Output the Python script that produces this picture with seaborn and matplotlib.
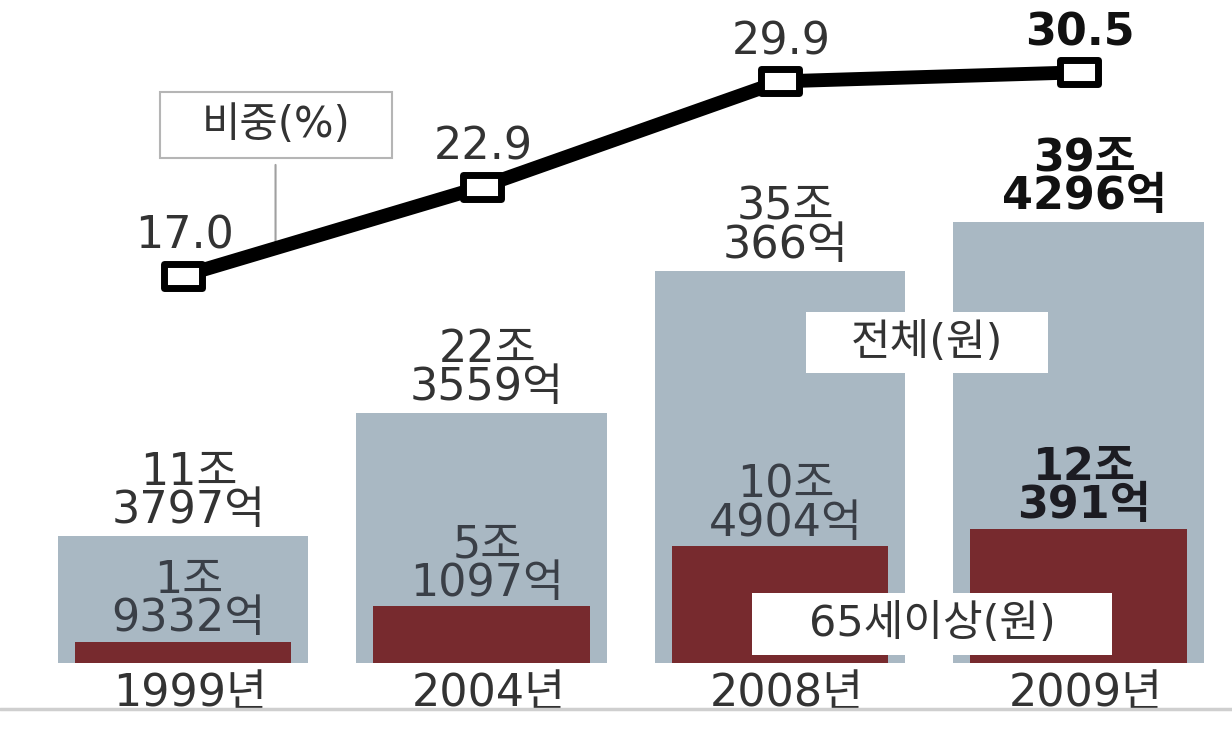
import numpy as np
import pandas as pd
import matplotlib
matplotlib.use("Agg")
import matplotlib.pyplot as plt
from matplotlib.path import Path
from matplotlib.lines import Line2D
from matplotlib.patches import Rectangle
import seaborn as sns

# ---- data -------------------------------------------------------------
years = ["1999년", "2004년", "2008년", "2009년"]
total_jo = [11.3797, 22.3559, 35.0366, 39.4296]          # 전체 진료비 (조원)
senior_jo = [1.9332, 5.1097, 10.4904, 12.0391]           # 65세 이상 진료비 (조원)
share_pct = [17.0, 22.9, 29.9, 30.5]                     # 비중 (%)
total_labels = ["11조\n3797억", "22조\n3559억", "35조\n366억", "39조\n4296억"]
senior_labels = ["1조\n9332억", "5조\n1097억", "10조\n4904억", "12조\n391억"]
share_labels = ["17.0", "22.9", "29.9", "30.5"]

GRAY = "#a9b8c3"
RED = "#772a2e"
TXT = "#333333"

sns.set_theme(style="white")
FAMILY = ["DejaVu Sans", "Noto Sans CJK KR"]
plt.rcParams["font.family"] = FAMILY

W, H = 1232, 729
fig = plt.figure(figsize=(W / 100, H / 100), dpi=100)
fig.patch.set_facecolor("white")
ax = fig.add_axes([0, 0, 1, 1])

df = pd.DataFrame({"year": years, "total": total_jo, "senior": senior_jo})
sns.barplot(data=df, x="year", y="total", color=GRAY, saturation=1,
            width=0.84, ax=ax, zorder=1, linewidth=0, edgecolor="none")
sns.barplot(data=df, x="year", y="senior", color=RED, saturation=1,
            width=0.725, ax=ax, zorder=2, linewidth=0, edgecolor="none")

ax.set_xlim(-0.613, 3.514)
ax.set_ylim(-5.85, 59.24)
ax.axis("off")

FS = 32
LS = 0.86
# value labels above the total bars and the senior bars
for i, (t, lab) in enumerate(zip(total_jo, total_labels)):
    bold = i == len(years) - 1
    ax.annotate(lab, xy=(i, t), xytext=(4, 3), textcoords="offset points",
                ha="center", va="bottom", fontsize=FS, linespacing=LS,
                color="#111111" if bold else TXT,
                fontweight="bold" if bold else "normal")
for i, (s, lab) in enumerate(zip(senior_jo, senior_labels)):
    last = i == len(years) - 1
    ax.annotate(lab, xy=(i, s), xytext=(4, 1), textcoords="offset points",
                ha="center", va="bottom", fontsize=FS, linespacing=LS,
                color="#1c1c22" if last else "#3a3f47",
                fontweight="bold" if last else "normal")

# year labels under the bars
for i, y in enumerate(years):
    ax.annotate(y, xy=(i, 0), xytext=(5, -6), textcoords="offset points",
                ha="center", va="top", fontsize=FS, color=TXT)

# share line on a second scale
ax2 = ax.twinx()
ax2.set_position([0, 0, 1, 1])
rect = Path([(-1.52, -1), (1.52, -1), (1.52, 1), (-1.52, 1), (-1.52, -1)],
            [Path.MOVETO, Path.LINETO, Path.LINETO, Path.LINETO, Path.CLOSEPOLY])
xpos = np.arange(len(years))
sns.lineplot(x=xpos, y=share_pct, ax=ax2, color="black", linewidth=10,
             marker=rect, markersize=27, markerfacecolor="white",
             markeredgecolor="black", markeredgewidth=5, zorder=5)
ax2.set_xlim(-0.613, 3.514)
ax2.set_ylim(-13.07, 35.30)
ax2.axis("off")

for i, (v, lab) in enumerate(zip(share_pct, share_labels)):
    bold = i == len(years) - 1
    ax2.annotate(lab, xy=(i, v), xytext=(1, 13), textcoords="offset points",
                 ha="center", va="bottom", fontsize=FS,
                 color="#111111" if bold else TXT,
                 fontweight="bold" if bold else "normal")


def tag(x0, y0, x1, y1, text, edge="none", size=FS - 1):
    """White name tag given in pixel box (top-left origin)."""
    fig.add_artist(Rectangle((x0 / W, 1 - y1 / H), (x1 - x0) / W, (y1 - y0) / H,
                             transform=fig.transFigure, facecolor="white",
                             edgecolor=edge, linewidth=1.5, zorder=9))
    fig.text((x0 + x1) / 2 / W, 1 - (y0 + y1) / 2 / H, text, ha="center",
             va="center", fontsize=size, color=TXT, zorder=10)


# callout for the share line
xq = 0.31
yq = np.interp(xq, xpos, share_pct)
ax2.annotate("", xy=(xq, yq), xytext=(0, 60), textcoords="offset points",
             arrowprops=dict(arrowstyle="-", color="#a0a0a0", lw=1.5,
                             shrinkA=0, shrinkB=4))
tag(160, 92, 392, 158, "비중(%)", edge="#b5b5b5", size=FS - 2)

# series name tags
tag(806, 312, 1048, 373, "전체(원)")
tag(752, 593, 1112, 655, "65세이상(원)")

# bottom rule
fig.add_artist(Line2D([0, 1], [1 - 709 / H] * 2, color="#cfcfcf", lw=2.5))

fig.savefig("out.png", dpi=100, facecolor="white")
